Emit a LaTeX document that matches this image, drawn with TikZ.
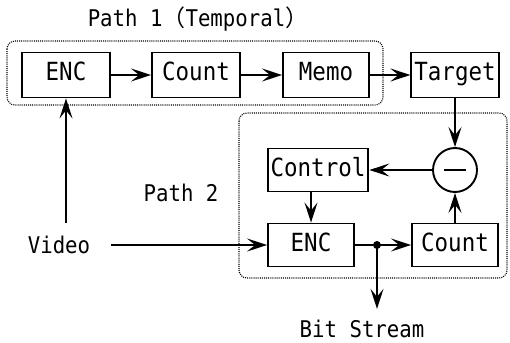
\documentclass[tikz,border=0pt]{standalone}
\usepackage{fontspec}
\setmainfont{DejaVu Sans Mono}[FakeStretch=0.9]
\newfontfamily\cjk{Noto Sans CJK JP}
\usetikzlibrary{arrows.meta}

\begin{document}
\begin{tikzpicture}[x=1pt, y=-1pt, line width=1.9pt,
	arrows={-Stealth[length=20pt,width=13pt,inset=8pt]},
	font=\fontsize{23}{26}\selectfont,
	box/.style={draw, minimum width=86pt, minimum height=45pt, inner sep=3pt,
		font=\fontsize{25}{28}\selectfont, text height=18pt, text depth=6pt},
	group/.style={draw, line width=1.1pt, dash pattern=on 1pt off 1.1pt, rounded corners=8pt}]
	\useasboundingbox (0,0) rectangle (510,342);

	% dotted frames of the two paths
	\draw[group, -] (7,41) rectangle (383,105);
	\draw[group, -] (239,113) rectangle (507,278);

	\node (P1) at (198,19) {Path 1{\cjk （}Temporal{\cjk ）}};
	\node (P2) at (181,193) {Path 2};

	\node[box, minimum width=88pt] (E1) at (66,75) {ENC};
	\node[box, minimum width=88pt] (C1) at (196,75) {Count};
	\node[box] (M) at (326,75) {Memo};
	\node[box] (T) at (455,75) {Target};
	\node[box, minimum height=43pt] (K) at (318,170) {Control};
	\node[draw, circle, minimum size=44pt, inner sep=0pt] (D) at (455,170) {};
	\node[box, minimum height=43pt] (E2) at (311,245) {ENC};
	\node[box, minimum height=43pt] (C2) at (455,245) {Count};
	\node (V) at (59,245) {Video};
	\node (B) at (362,329) {Bit Stream};

	\draw[-, line width=1.4pt] ([xshift=-11pt]D.center) -- ([xshift=11pt]D.center);

	\draw (E1) -- (C1);
	\draw (C1) -- (M);
	\draw (M) -- (T);
	\draw (T) -- (D);
	\draw (D) -- (K);
	\draw (K.south -| E2) -- (E2);
	\draw (C2) -- (D);

	\coordinate (Vt) at ([yshift=9pt]V.north);
	\draw (Vt -| E1) -- (E1);
	\draw ([xshift=17pt]V.east) -- (E2);

	\coordinate (J) at (377,245);
	\draw[-] (E2) -- (J);
	\draw (J) -- (C2);
	\draw (J) -- ([yshift=7pt]B.north -| J);
	\fill (J) circle (4pt);
\end{tikzpicture}
\end{document}
